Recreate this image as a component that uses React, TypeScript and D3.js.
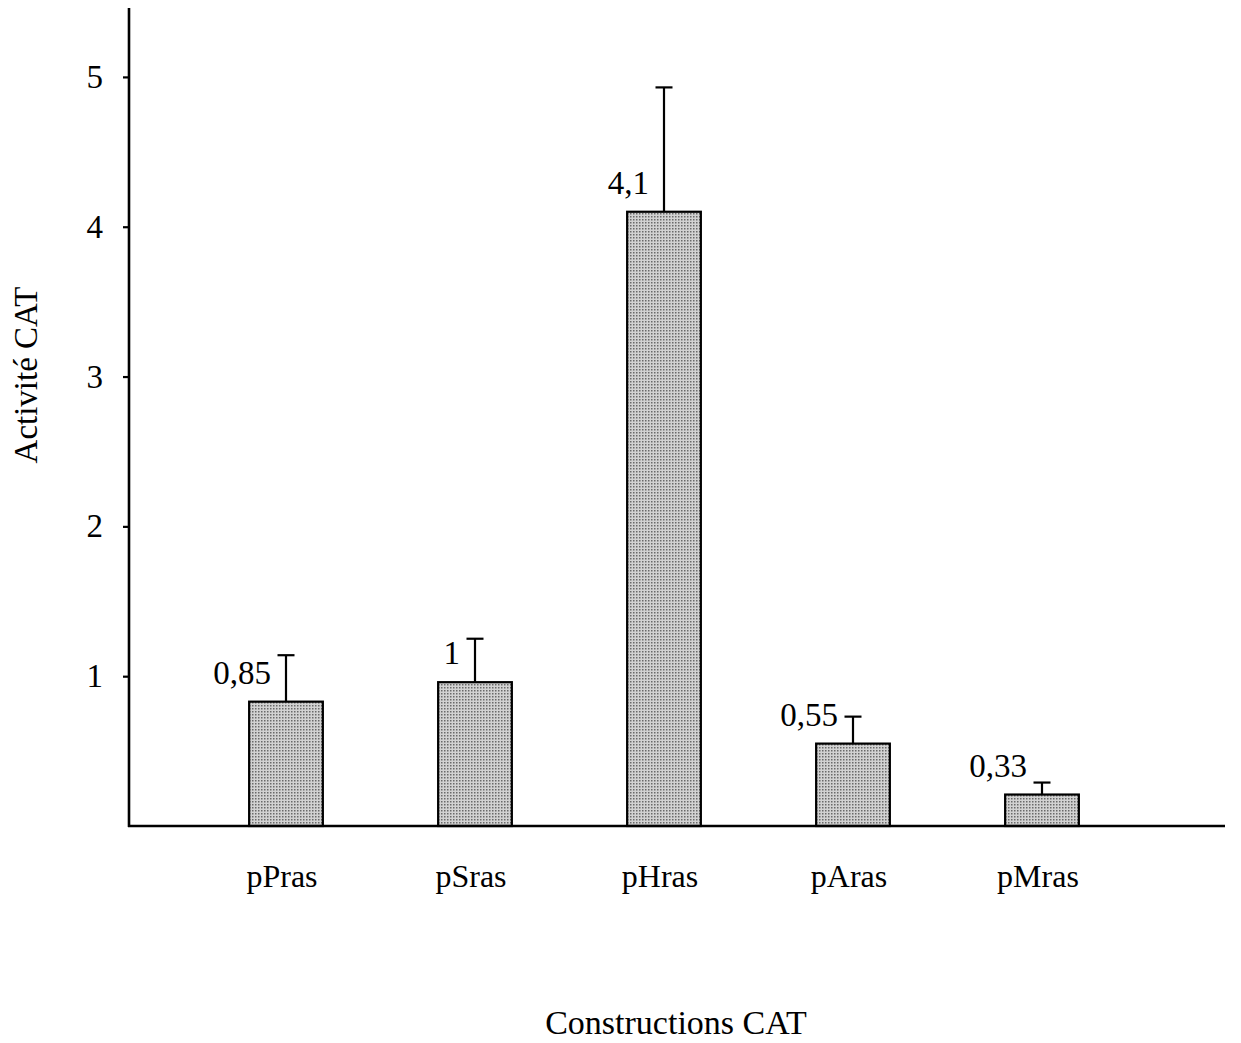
import React, { useEffect, useRef } from 'react';
import * as d3 from 'd3';

// Values
const categories = ['pPras', 'pSras', 'pHras', 'pAras', 'pMras'];
const barValues = [0.83, 0.96, 4.1, 0.55, 0.21];
const errorTops = [1.14, 1.25, 4.93, 0.73, 0.29];
const valueLabels = ['0,85', '1', '4,1', '0,55', '0,33'];
const yTicks = [1, 2, 3, 4, 5];

const FONT = '"Liberation Serif", "Times New Roman", serif';

const App = () => {
    const svgRef = useRef<SVGSVGElement>(null);

    useEffect(() => {
        const width = 1241;
        const height = 1043;
        const axisX = 129;
        const axisRight = 1225;
        const baseY = 826;

        const svg = d3.select(svgRef.current);
        svg.selectAll('*').remove();
        svg.attr('width', width).attr('height', height);

        // Stippled grey fill like the scanned bars
        const pattern = svg.append('defs').append('pattern')
            .attr('id', 'stipple')
            .attr('width', 3)
            .attr('height', 3)
            .attr('patternUnits', 'userSpaceOnUse');
        pattern.append('rect').attr('width', 3).attr('height', 3).attr('fill', '#d2d2d2');
        pattern.append('rect').attr('width', 1.5).attr('height', 1.5).attr('fill', '#6a6a6a');

        const y = d3.scaleLinear().domain([0, 5.46]).range([baseY, 8]);
        const x = d3.scaleBand<string>()
            .domain(categories)
            .range([191.5, 1136.5])
            .paddingInner(0.61)
            .paddingOuter(0.305);

        // Bars
        svg.append('g')
            .selectAll('rect')
            .data(categories)
            .enter()
            .append('rect')
            .attr('x', d => x(d)!)
            .attr('width', x.bandwidth())
            .attr('y', (d, i) => y(barValues[i]))
            .attr('height', (d, i) => baseY - y(barValues[i]))
            .attr('fill', 'url(#stipple)')
            .attr('stroke', '#000')
            .attr('stroke-width', 2.2);

        // Error bars (upper only)
        const errs = svg.append('g').attr('stroke', '#000').attr('stroke-width', 2.2);
        categories.forEach((c, i) => {
            const cx = x(c)! + x.bandwidth() / 2;
            errs.append('line')
                .attr('x1', cx).attr('x2', cx)
                .attr('y1', y(barValues[i])).attr('y2', y(errorTops[i]));
            errs.append('line')
                .attr('x1', cx - 8.5).attr('x2', cx + 8.5)
                .attr('y1', y(errorTops[i])).attr('y2', y(errorTops[i]));
        });

        // Value labels above the bars, left of the error bar
        svg.append('g')
            .selectAll('text')
            .data(categories)
            .enter()
            .append('text')
            .attr('x', d => x(d)! + x.bandwidth() / 2 - 15)
            .attr('y', (d, i) => y(barValues[i]) - 18)
            .attr('text-anchor', 'end')
            .attr('font-family', FONT)
            .attr('font-size', 33)
            .text((d, i) => valueLabels[i]);

        // Y axis
        const yAxis = svg.append('g')
            .attr('transform', `translate(${axisX},0)`)
            .call(d3.axisLeft(y)
                .tickValues(yTicks)
                .tickSize(6)
                .tickSizeOuter(0)
                .tickPadding(20)
                .tickFormat(d3.format('d')));
        yAxis.select('.domain').remove();
        yAxis.selectAll('line').attr('stroke', '#000').attr('stroke-width', 2.2);
        yAxis.selectAll('text')
            .attr('font-family', FONT)
            .attr('font-size', 33)
            .attr('fill', '#000');

        // Axis lines
        svg.append('line')
            .attr('x1', axisX).attr('x2', axisX)
            .attr('y1', y(5.46)).attr('y2', baseY + 1)
            .attr('stroke', '#000').attr('stroke-width', 2.6);
        svg.append('line')
            .attr('x1', axisX - 1).attr('x2', axisRight)
            .attr('y1', baseY).attr('y2', baseY)
            .attr('stroke', '#000').attr('stroke-width', 2.6);

        // Category labels
        svg.append('g')
            .selectAll('text')
            .data(categories)
            .enter()
            .append('text')
            .attr('x', d => x(d)! + x.bandwidth() / 2 - 4)
            .attr('y', 887)
            .attr('text-anchor', 'middle')
            .attr('font-family', FONT)
            .attr('font-size', 32)
            .text(d => d);

        // Axis titles
        svg.append('text')
            .attr('x', 676)
            .attr('y', 1034)
            .attr('text-anchor', 'middle')
            .attr('font-family', FONT)
            .attr('font-size', 34)
            .text('Constructions CAT');

        svg.append('text')
            .attr('transform', 'translate(37,375) rotate(-90)')
            .attr('text-anchor', 'middle')
            .attr('font-family', FONT)
            .attr('font-size', 33)
            .text('Activité CAT');
    }, []);

    return (
        <svg
            ref={svgRef}
            style={{ position: 'absolute', left: 0, top: 0, display: 'block', background: '#fff' }}
        />
    );
};

export default App;
